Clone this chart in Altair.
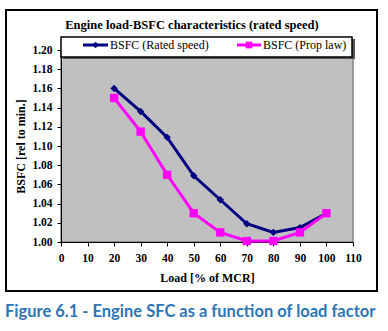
import altair as alt
import pandas as pd

loads = [20, 30, 40, 50, 60, 70, 80, 90, 100]
bsfc_rated = [1.160, 1.136, 1.109, 1.069, 1.044, 1.019, 1.010, 1.015, 1.030]
bsfc_prop = [1.150, 1.115, 1.070, 1.030, 1.010, 1.001, 1.001, 1.010, 1.030]
series_names = ["BSFC (Rated speed)", "BSFC (Prop law)"]
series_colors = ["#000080", "#FF00FF"]
x_ticks = list(range(0, 111, 10))
y_ticks = [round(1.00 + 0.02 * i, 2) for i in range(11)]
chart_title = "Engine load-BSFC characteristics (rated speed)"
x_title = "Load [% of MCR]"
y_title = "BSFC [rel to min.]"
caption = "Figure 6.1 - Engine SFC as a function of load factor"

df = pd.DataFrame({
    "Load": loads * 2,
    "BSFC": bsfc_rated + bsfc_prop,
    "Series": [series_names[0]] * len(loads) + [series_names[1]] * len(loads),
})

SERIF = "Liberation Serif"
W, H = 292, 192
L, T = 61, 50

color_scale = alt.Scale(domain=series_names, range=series_colors)

axis_common = dict(grid=False, labelFont=SERIF, labelFontWeight="bold", labelFontSize=11.5,
                   labelColor="black", tickColor="black", domainColor="black",
                   tickSize=4, titleFont=SERIF,
                   titleFontWeight="bold", titleFontSize=12, titleColor="black",
                   labelFlush=False, labelOverlap=False)

x_enc = alt.X("Load:Q", scale=alt.Scale(domain=[0, 110], nice=False),
              axis=alt.Axis(values=x_ticks, tickCount=len(x_ticks) + 2, title=x_title,
                            labelPadding=6, titlePadding=9, **axis_common))
y_enc = alt.Y("BSFC:Q", scale=alt.Scale(domain=[1.0, 1.2], nice=False, zero=False),
              axis=alt.Axis(values=y_ticks, tickCount=len(y_ticks) + 2, format=".2f",
                            title=y_title, labelPadding=5, titlePadding=4, **axis_common))

lines = alt.Chart(df).mark_line(strokeWidth=3).encode(
    x=x_enc, y=y_enc,
    color=alt.Color("Series:N", scale=color_scale, legend=None),
    detail="Series:N",
)
rated_pts = alt.Chart(df).transform_filter(
    alt.datum.Series == series_names[0]
).mark_point(shape="diamond", filled=True, size=55, opacity=1, color=series_colors[0]).encode(
    x="Load:Q", y="BSFC:Q")
prop_pts = alt.Chart(df).transform_filter(
    alt.datum.Series == series_names[1]
).mark_point(shape="square", filled=True, size=70, opacity=1, color=series_colors[1]).encode(
    x="Load:Q", y="BSFC:Q")

one = pd.DataFrame({"a": [0]})

def px(v):
    return alt.value(v - L)

def py(v):
    return alt.value(v - T)

frame = alt.Chart(one).mark_rect(filled=False, stroke="black", strokeWidth=2).encode(
    x=px(6), x2=px(377), y=py(10), y2=py(291))

leg_shadow = alt.Chart(one).mark_rect(fill="#555555").encode(
    x=px(63), x2=px(355), y=py(39), y2=py(59))
leg_box = alt.Chart(one).mark_rect(fill="white", stroke="black", strokeWidth=1.5).encode(
    x=px(61), x2=px(352), y=py(37), y2=py(57))
leg_l1 = alt.Chart(one).mark_rule(color=series_colors[0], strokeWidth=3).encode(
    x=px(83), x2=px(108), y=py(45))
leg_p1 = alt.Chart(one).mark_point(shape="diamond", filled=True, size=45, opacity=1,
                                   color=series_colors[0]).encode(x=px(95.5), y=py(45))
leg_t1 = alt.Chart(one).mark_text(text=series_names[0], align="left", baseline="middle",
                                  font=SERIF, fontSize=12, color="black").encode(
    x=px(110), y=py(45))
leg_l2 = alt.Chart(one).mark_rule(color=series_colors[1], strokeWidth=3).encode(
    x=px(237), x2=px(261), y=py(45))
leg_p2 = alt.Chart(one).mark_point(shape="square", filled=True, size=45, opacity=1,
                                   color=series_colors[1]).encode(x=px(249), y=py(45))
leg_t2 = alt.Chart(one).mark_text(text=series_names[1], align="left", baseline="middle",
                                  font=SERIF, fontSize=12, color="black").encode(
    x=px(263), y=py(45))

title = alt.Chart(one).mark_text(text=chart_title, align="center", baseline="middle",
                                 font=SERIF, fontSize=12.5, fontWeight="bold",
                                 color="black").encode(x=px(192), y=py(25))
cap = alt.Chart(one).mark_text(text=caption, align="left", baseline="middle",
                               font="Lato", fontSize=16.5, fontWeight="bold",
                               color="#2E74B5").encode(x=px(5), y=py(312))

chart = alt.layer(
    lines, rated_pts, prop_pts,
    leg_shadow, leg_box, leg_l1, leg_p1, leg_t1, leg_l2, leg_p2, leg_t2,
    title, cap, frame,
).properties(
    width=W, height=H,
    autosize=alt.AutoSizeParams(type="none"),
    padding={"left": L, "top": T, "right": 388 - L - W, "bottom": 331 - T - H},
    background="white",
).configure_view(
    fill="#C0C0C0", stroke="#808080", strokeWidth=1.5
)

chart.save("out.html", embed_options={"renderer": "svg", "actions": False})
